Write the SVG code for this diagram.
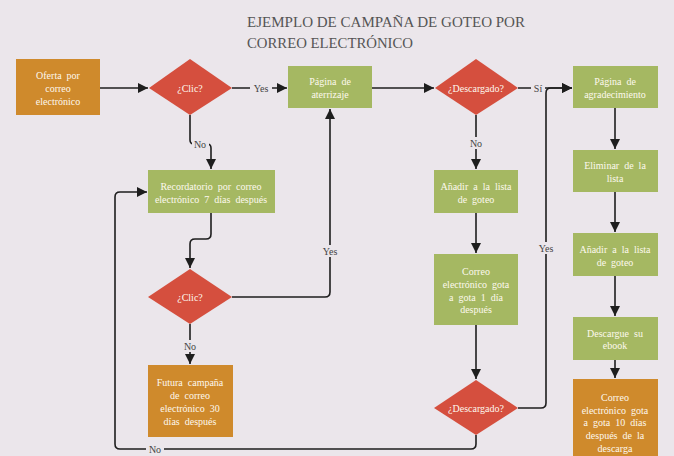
<svg xmlns="http://www.w3.org/2000/svg" width="674" height="456" viewBox="0 0 674 456">
<defs>
<marker id="arr" markerUnits="userSpaceOnUse" markerWidth="11" markerHeight="11" refX="10" refY="5.5" orient="auto">
<path d="M0,0.5 L10,5.5 L0,10.5 Z" fill="#1e1e1e"/>
</marker>
<style>
.bg{fill:#ebe6eb}
.green{fill:#a5b862}
.orange{fill:#cf8a2c}
.red{fill:#d54f3e}
.t{font-family:"Liberation Serif",serif;font-size:10px;fill:#fdf8ee;text-anchor:middle;word-spacing:2.5px}
.title{font-family:"Liberation Serif",serif;font-size:15px;fill:#555}
.c{fill:none;stroke:#1e1e1e;stroke-width:1.6}
.ca{fill:none;stroke:#1e1e1e;stroke-width:1.6;marker-end:url(#arr)}
.lb{fill:#ebe6eb}
.l{font-family:"Liberation Serif",serif;font-size:10px;fill:#444;text-anchor:middle}
</style>
</defs>
<rect class="bg" x="0" y="0" width="674" height="456"/>
<g id="title">
<text class="title" x="247" y="27" textLength="278" lengthAdjust="spacingAndGlyphs">EJEMPLO DE CAMPAÑA DE GOTEO POR</text>
<text class="title" x="247" y="48" textLength="166" lengthAdjust="spacingAndGlyphs">CORREO ELECTRÓNICO</text>
</g>
<g id="connectors">
<path class="ca" d="M100,88 H148"/>
<path class="ca" d="M232,88 H287"/>
<path class="ca" d="M190,115 V140 Q190,144 194,144 H207 Q211,144 211,148 V169"/>
<path class="ca" d="M372,88 H434"/>
<path class="ca" d="M518,88 H572"/>
<path class="ca" d="M476,115 V169"/>
<path class="ca" d="M615,108 V149"/>
<path class="ca" d="M615,192 V232"/>
<path class="ca" d="M615,276 V316"/>
<path class="ca" d="M615,360 V378"/>
<path class="ca" d="M211,213 V234 Q211,239 206,239 H195 Q190,239 190,244 V268"/>
<path class="ca" d="M232,297 H325 Q330,297 330,292 V109"/>
<path class="ca" d="M190,324 V364"/>
<path class="ca" d="M476,213 V253"/>
<path class="ca" d="M476,325 V379"/>
<path class="ca" d="M476,435 V444 Q476,449 471,449 H120 Q115,449 115,444 V197 Q115,192 120,192 H147"/>
<path class="ca" d="M518,408 H541 Q546,408 546,403 V93 Q546,88 551,88 H572"/>
<rect class="lb" x="250" y="82" width="22" height="12"/>
<text class="l" x="261" y="91.5">Yes</text>
<rect class="lb" x="192" y="138" width="17" height="12"/>
<text class="l" x="200" y="147.5">No</text>
<rect class="lb" x="531" y="82" width="14" height="12"/>
<text class="l" x="538" y="91.5">Sí</text>
<rect class="lb" x="467" y="137" width="18" height="12"/>
<text class="l" x="476" y="146.5">No</text>
<rect class="lb" x="319" y="245" width="22" height="12"/>
<text class="l" x="330" y="254.5">Yes</text>
<rect class="lb" x="181" y="340" width="18" height="12"/>
<text class="l" x="190" y="349.5">No</text>
<rect class="lb" x="146" y="443" width="18" height="12"/>
<text class="l" x="155" y="452.5">No</text>
<rect class="lb" x="535" y="242" width="22" height="12"/>
<text class="l" x="546" y="251.5">Yes</text>
</g>
<g id="n1">
<rect class="orange" x="16" y="59" width="84" height="56"/>
<text class="t" x="58" y="78.5">Oferta por</text>
<text class="t" x="58" y="91.5">correo</text>
<text class="t" x="58" y="104.5">electrónico</text>
</g>
<g id="d1">
<polygon class="red" points="190,59 232,88 190,115 149,88"/>
<text class="t" x="190" y="91.5">¿Clic?</text>
</g>
<g id="n2">
<rect class="green" x="288" y="66" width="84" height="42"/>
<text class="t" x="330" y="85">Página de</text>
<text class="t" x="330" y="98">aterrizaje</text>
</g>
<g id="d2">
<polygon class="red" points="476,59 518,88 476,115 435,88"/>
<text class="t" x="476" y="91.5">¿Descargado?</text>
</g>
<g id="n3">
<rect class="green" x="573" y="66" width="85" height="42"/>
<text class="t" x="615" y="85">Página de</text>
<text class="t" x="615" y="98">agradecimiento</text>
</g>
<g id="n4">
<rect class="green" x="148" y="170" width="127" height="43"/>
<text class="t" x="211" y="189.5">Recordatorio por correo</text>
<text class="t" x="211" y="202.5">electrónico 7 días después</text>
</g>
<g id="n5">
<rect class="green" x="434" y="170" width="84" height="43"/>
<text class="t" x="476" y="189.5">Añadir a la lista</text>
<text class="t" x="476" y="202.5">de goteo</text>
</g>
<g id="n6">
<rect class="green" x="573" y="150" width="85" height="42"/>
<text class="t" x="615" y="168.5">Eliminar de la</text>
<text class="t" x="615" y="181.5">lista</text>
</g>
<g id="d3">
<polygon class="red" points="190,269 232,297 190,324 148,297"/>
<text class="t" x="190" y="300.5">¿Clic?</text>
</g>
<g id="n7">
<rect class="green" x="434" y="254" width="84" height="71"/>
<text class="t" x="476" y="274.5">Correo</text>
<text class="t" x="476" y="287.5">electrónico gota</text>
<text class="t" x="476" y="300.5">a gota 1 día</text>
<text class="t" x="476" y="312.5">después</text>
</g>
<g id="n8">
<rect class="green" x="573" y="233" width="85" height="43"/>
<text class="t" x="615" y="252.5">Añadir a la lista</text>
<text class="t" x="615" y="265.5">de goteo</text>
</g>
<g id="n9">
<rect class="green" x="573" y="317" width="85" height="43"/>
<text class="t" x="615" y="336.5">Descargue su</text>
<text class="t" x="615" y="348.5">ebook</text>
</g>
<g id="d4">
<polygon class="red" points="476,380 518,408 476,435 434,408"/>
<text class="t" x="476" y="411.5">¿Descargado?</text>
</g>
<g id="n10">
<rect class="orange" x="148" y="365" width="85" height="72"/>
<text class="t" x="190" y="385.5">Futura campaña</text>
<text class="t" x="190" y="398.5">de correo</text>
<text class="t" x="190" y="411.5">electrónico 30</text>
<text class="t" x="190" y="424.5">días después</text>
</g>
<g id="n11">
<rect class="orange" x="573" y="379" width="85" height="82"/>
<text class="t" x="615" y="400.5">Correo</text>
<text class="t" x="615" y="413.5">electrónico gota</text>
<text class="t" x="615" y="425.5">a gota 10 días</text>
<text class="t" x="615" y="438.5">después de la</text>
<text class="t" x="615" y="452">descarga</text>
</g>
</svg>
